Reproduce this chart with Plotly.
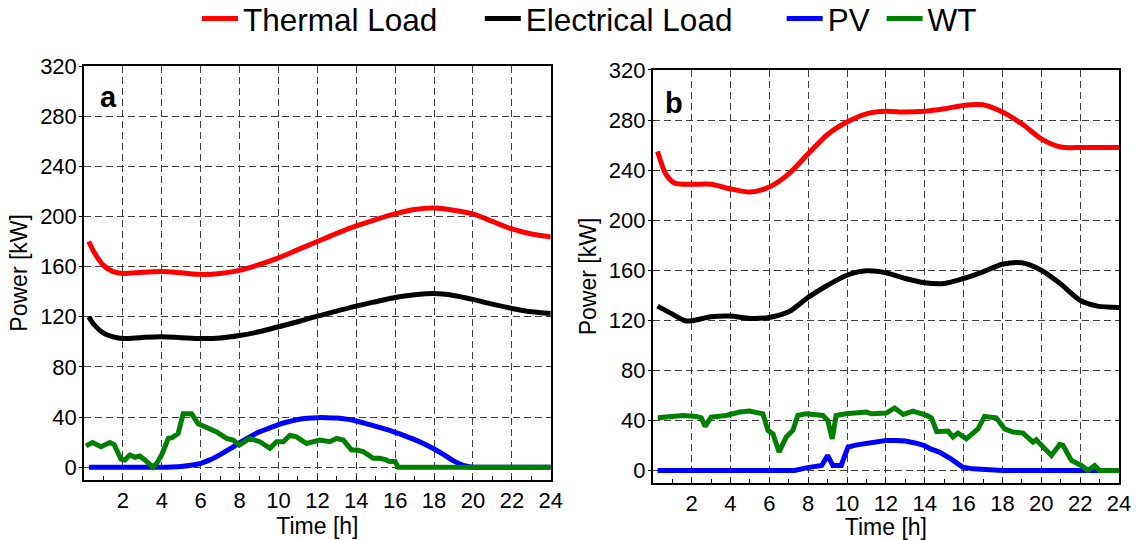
import plotly.graph_objects as go

# ---------------- data ----------------
# Panel a
t_load_a = [0.25, 0.5, 1, 1.5, 2, 3, 4, 5, 6, 7, 8, 9, 10, 11, 12, 13, 14, 15, 16, 17, 18, 19, 20, 21, 22, 23, 24]
thermal_a = [180, 172, 161, 156, 154.5, 155.5, 156, 155, 153.8, 154.5, 157, 161.5, 167, 173.5, 180, 186.5,
             192.4, 197.5, 202, 205.5, 206.7, 205, 202, 196, 190, 186, 183.7]
electrical_a = [120, 114, 107, 104, 102.6, 103.5, 104, 103.3, 102.6, 103, 105, 108, 112, 116, 120.5, 124.5,
                128.5, 132, 135.4, 137.5, 138.5, 137, 133.8, 130, 126.6, 124, 122.6]

t_pv_a = [0.25, 1, 2, 3, 4, 4.5, 5, 5.5, 6, 6.5, 7, 7.5, 8, 8.5, 9, 9.5, 10, 10.5, 11, 11.5, 12, 12.5, 13,
          13.5, 14, 14.5, 15, 15.5, 16, 16.5, 17, 17.5, 18, 18.5, 19, 19.5, 20, 21, 22, 23, 24]
pv_a = [0, 0, 0, 0, 0, 0.2, 0.6, 1.5, 3, 6, 10, 14.5, 19.5, 24, 28, 31, 34, 36.2, 38, 39, 39.5, 39.5, 39.2,
        38.3, 36.8, 34.8, 32.6, 30.3, 27.8, 25, 22, 18.5, 14.5, 10, 5, 1.5, 0, 0, 0, 0, 0]

t_wt_a = [0.1, 0.44, 0.87, 1.33, 1.55, 1.9, 2.1, 2.36, 2.62, 2.87, 3.13, 3.55, 3.74, 3.99, 4.17, 4.33, 4.52,
          4.84, 5.1, 5.53, 5.87, 6.3, 6.82, 7.33, 7.67, 7.98, 8.53, 9.04, 9.56, 9.9, 10.24, 10.59, 10.93,
          11.44, 12.13, 12.64, 12.99, 13.33, 13.76, 14.01, 14.36, 14.87, 15.21, 15.5, 15.7, 16.0, 16.15, 17, 24]
wt_a = [17, 19.7, 16.3, 19.7, 18, 6.5, 5.8, 9.7, 7.9, 8.9, 5.8, 0, 3.2, 9.7, 16.5, 22.9, 23.5,
        26.8, 42.6, 42.6, 34.7, 32.1, 28.1, 22.9, 21.6, 17.6, 22.9, 20.3, 15, 20.3, 20.3, 25.5, 24.2,
        18.9, 21.6, 20.3, 22.9, 21.6, 13.7, 13.7, 12.4, 7.1, 7.1, 6, 4.5, 4.5, 0, 0, 0]

# Panel b
t_thermal_b = [0.25, 0.67, 1.12, 2, 3, 4, 5, 6, 7, 8, 9, 10, 11, 12, 13, 14, 15, 16, 17, 18, 19, 20, 21, 22, 23, 24]
thermal_b = [255, 237, 229.7, 228.7, 228.7, 225, 222.5, 226.5, 237, 253, 268.5, 278.4, 285, 287, 286.4, 287,
             289, 291.7, 292.2, 286.4, 277, 265, 258.5, 258, 258, 258]

t_elec_b = [0.25, 0.94, 1.68, 2, 3, 4, 5, 6, 7, 8, 9, 10, 11, 12, 13, 14, 15, 16, 17, 18, 19, 20, 21, 22,
            22.9, 24]
electrical_b = [131.3, 125.5, 119.6, 119.6, 122.8, 123.4, 121.5, 122.3, 126.8, 138.3, 148, 156, 159.5, 158,
                153.4, 150, 149.4, 153.4, 158.7, 164.8, 166, 160, 149, 136, 131.3, 130.3]

t_pv_b = [0.25, 1, 2, 3, 4, 5, 6, 7, 7.3, 7.9, 8.7, 9.0, 9.27, 9.7, 10.05, 10.5, 11, 11.5, 12, 12.5, 13,
          13.5, 13.95, 14.3, 14.75, 15.35, 15.95, 16.5, 17.2, 18, 20, 22, 24]
pv_b = [0, 0, 0, 0, 0, 0, 0, 0, 0, 2.1, 4, 12, 4, 4, 18.7, 20.5, 22, 23.3, 24, 24, 23.5, 22, 20, 17.3,
        14.7, 9.3, 2.7, 1.3, 0.3, 0, 0, 0, 0]

t_wt_b = [0.26, 1.04, 1.55, 2.24, 2.5, 2.7, 3.01, 3.78, 4.47, 4.98, 5.67, 5.93, 6.19, 6.5, 6.87, 7.21, 7.47,
          7.9, 8.76, 9.01, 9.24, 9.44, 9.96, 10.99, 11.25, 12.02, 12.45, 12.9, 13.39, 14.1, 14.35, 14.62,
          15.2, 15.45, 15.71, 16.14, 16.74, 17.08, 17.68, 18.11, 18.54, 19.06, 19.57, 19.74, 20.52, 20.95,
          21.12, 21.55, 22.06, 22.4, 22.75, 23, 24]
wt_b = [42.1, 43.2, 44, 43.2, 42.1, 35.2, 42.7, 44, 46.7, 47.5, 45.3, 32, 29.3, 14.7, 26.7, 32, 44,
        45.3, 44, 40, 25.3, 44, 45.3, 46.7, 45.3, 45.9, 50, 44.8, 47.5, 44, 42, 31,
        31.5, 26.7, 29.9, 25.3, 33.3, 43.2, 42.1, 33.3, 30.7, 29.9, 22.7, 24.5, 12, 20.8,
        20, 8, 4, 0, 4, 0, 0]

x_ticks = [2, 4, 6, 8, 10, 12, 14, 16, 18, 20, 22, 24]
y_ticks = [0, 40, 80, 120, 160, 200, 240, 280, 320]

series_names = ["Thermal Load", "Electrical Load", "PV", "WT"]
series_colors = ["#ff0000", "#000000", "#0000ff", "#008000"]

# ---------------- figure ----------------
fig = go.Figure()
FONT = "Liberation Sans, Arial, sans-serif"
LW = 5

panels = [
    ("x", "y", [(t_load_a, thermal_a, "spline"), (t_load_a, electrical_a, "spline"),
                (t_pv_a, pv_a, "spline"), (t_wt_a, wt_a, "linear")]),
    ("x2", "y2", [(t_thermal_b, thermal_b, "spline"), (t_elec_b, electrical_b, "spline"),
                  (t_pv_b, pv_b, "linear"), (t_wt_b, wt_b, "linear")]),
]
legend_ids = ["legend", "legend2", "legend3", "legend4"]
for p, (xa, ya, series) in enumerate(panels):
    for i, (tx, vy, shape) in enumerate(series):
        fig.add_trace(go.Scatter(
            x=tx, y=vy, mode="lines", name=series_names[i], xaxis=xa, yaxis=ya,
            line=dict(color=series_colors[i], width=LW, shape=shape,
                      smoothing=0.8 if shape == "spline" else None),
            showlegend=(p == 0), legend=legend_ids[i],
        ))

# geometry (px)
W, H = 1137, 540
ML, MR, MT, MB = 84, 17.5, 65.5, 56.7
pw = W - ML - MR
ph = H - MT - MB


def xd(a, b):
    return [(a - ML) / pw, (b - ML) / pw]


def yd(top, bottom):
    return [(H - MB - bottom) / ph, (H - MB - top) / ph]


axis_common = dict(
    showline=True, mirror=True, linecolor="black", linewidth=1.5,
    showgrid=True, gridcolor="#404040", gridwidth=1, griddash="7px,4px",
    zeroline=False, tickfont=dict(family=FONT, size=22, color="black"),
    tickcolor="black",
)
xaxis_common = dict(axis_common, range=[0, 24], tickvals=x_ticks, ticks="inside", ticklen=4,
                    minor=dict(dtick=1, tick0=0, ticks="inside", ticklen=4, tickcolor="black", showgrid=False),
                    title=dict(text="Time [h]", font=dict(family=FONT, size=23, color="black"), standoff=5))
yaxis_common = dict(axis_common, range=[-10, 320], tickvals=y_ticks, ticks="outside", ticklen=3,
                    ticklabelstandoff=-2,
                    title=dict(text="Power [kW]", font=dict(family=FONT, size=23, color="black"), standoff=6))

fig.update_layout(
    width=W, height=H,
    margin=dict(l=ML, r=MR, t=MT, b=MB, autoexpand=False),
    paper_bgcolor="white", plot_bgcolor="white",
    xaxis=dict(xaxis_common, domain=xd(84, 551), anchor="y"),
    yaxis=dict(yaxis_common, domain=yd(65.5, 480), anchor="x"),
    xaxis2=dict(xaxis_common, domain=xd(653, 1119.5), anchor="y2"),
    yaxis2=dict(yaxis_common, domain=yd(69.5, 483.3), anchor="x2"),
    font=dict(family=FONT, color="black"),
)

# legends: one per entry, positioned along the top
leg_y = (H - MB - 18) / ph
leg_x_px = [197, 480, 782, 882]
for lid, xp in zip(legend_ids, leg_x_px):
    fig.update_layout({lid: dict(
        x=(xp - ML) / pw, y=leg_y, xanchor="left", yanchor="middle",
        orientation="h", bgcolor="rgba(0,0,0,0)", borderwidth=0,
        font=dict(family=FONT, size=31.5, color="black"), itemwidth=36,
    )})

# panel labels
fig.add_annotation(x=1.25, y=295, xref="x", yref="y", text="<b>a</b>", showarrow=False,
                   font=dict(family=FONT, size=29, color="black"))
fig.add_annotation(x=1.1, y=294, xref="x2", yref="y2", text="<b>b</b>", showarrow=False,
                   font=dict(family=FONT, size=29, color="black"))

fig.write_html("out.html")
